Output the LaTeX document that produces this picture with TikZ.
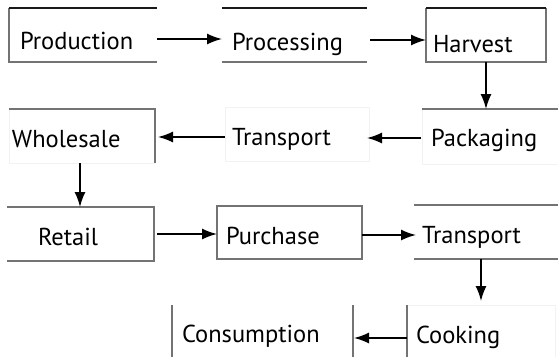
\documentclass[tikz,border=0pt]{standalone}
\usepackage{fontspec}
\setmainfont{PT Sans}
\usetikzlibrary{arrows.meta}
\begin{document}
\begin{tikzpicture}[x=1pt,y=-1pt,
  box/.style={inner sep=0pt,outer sep=0pt,draw=none},
  lbl/.style={inner sep=0pt,outer sep=0pt,anchor=base west,font=\fontsize{24.5}{27}\selectfont,text=black},
  dk/.style={draw=black!90,line width=1.3pt},
  md/.style={draw=black!55,line width=1.1pt},
  ft/.style={draw=black!5,line width=0.8pt},
  arr/.style={draw=black,line width=1.5pt,-{Latex[length=15pt,width=11pt]}}]
\useasboundingbox[fill=white] (0,0) rectangle (558,357);
% boxes
\node[box,minimum width=148pt,minimum height=54pt] (bProd) at (83,35) {};
\node[box,minimum width=145pt,minimum height=54pt] (bProc) at (294.5,35) {};
\node[box,minimum width=120pt,minimum height=54pt] (bHarv) at (486,35) {};
\node[box,minimum width=136pt,minimum height=55pt] (bPack) at (490,136.5) {};
\node[box,minimum width=144pt,minimum height=54pt] (bTr2) at (297,134) {};
\node[box,minimum width=146pt,minimum height=54pt] (bWhol) at (82,136) {};
\node[box,minimum width=147pt,minimum height=54pt] (bRet) at (80.5,234) {};
\node[box,minimum width=145pt,minimum height=53pt] (bPur) at (289.5,232.5) {};
\node[box,minimum width=144pt,minimum height=54pt] (bTr3) at (486,232) {};
\node[box,minimum width=148pt,minimum height=52pt] (bCook) at (481,331) {};
\node[box,minimum width=181pt,minimum height=52pt] (bCons) at (262.5,331) {};
% labels
\node[lbl] (tProd) at (20,49) {Production};
\node[lbl] (tProc) at (232,50) {Processing};
\node[lbl] (tHarv) at (433,52) {Harvest};
\node[lbl] (tPack) at (431,146) {Packaging};
\node[lbl] (tTr2) at (232,145) {Transport};
\node[lbl] (tWhol) at (12,147) {Wholesale};
\node[lbl] (tRet) at (38,245) {Retail};
\node[lbl] (tPur) at (226,244) {Purchase};
\node[lbl] (tTr3) at (422,243) {Transport};
\node[lbl] (tCook) at (416,343) {Cooking};
\node[lbl] (tCons) at (182,342) {Consumption};
% borders
\draw[md] (bProd.north west) -- (bProd.south west) -- (bProd.south east);
\draw[dk] (bProd.north west) -- (bProd.north east);
\draw[md] (bProc.south west) -- (bProc.south east);
\draw[dk] (bProc.north west) -- (bProc.north east);
\draw[md] (bHarv.north west) -- (bHarv.south west) -- (bHarv.south east) -- (bHarv.north east);
\draw[dk] (bHarv.north west) -- (bHarv.north east);
\draw[ft] (bPack.north west) -- (bPack.south west) -- (bPack.south east);
\draw[md] (bPack.north west) -- (bPack.north east);
\draw[ft] (bTr2.north west) rectangle (bTr2.south east);
\draw[ft] (bWhol.north west) -- (bWhol.south west) -- (bWhol.south east);
\draw[md] (bWhol.north west) -- (bWhol.north east) -- (bWhol.south east);
\draw[md] (bRet.north west) -- (bRet.north east) -- (bRet.south east) -- (bRet.south west);
\draw[md] (bPur.north west) rectangle (bPur.south east);
\draw[md] (bTr3.north west) -- (bTr3.north east);
\draw[md] (bTr3.south west) -- (bTr3.south east);
\draw[ft] (bCook.north west) -- (bCook.north east) -- (bCook.south east);
\draw[md] (bCook.north west) -- (bCook.south west);
\draw[md] (bCons.north west) -- (bCons.south west);
\draw[md] (bCons.north east) -- (bCons.south east);
% arrows
\draw[arr] ([yshift=-4pt]bProd.east) -- ([yshift=-4pt]bProc.west);
\draw[arr] ([xshift=3pt,yshift=-5pt]bProc.east) -- ([yshift=-5pt]bHarv.west);
\draw[arr] (bHarv.south) -- (bHarv.south |- bPack.north);
\draw[arr] ([xshift=-1pt,yshift=-1.5pt]bPack.west) -- ([xshift=-2pt,yshift=-1.5pt]bPack.west -| bTr2.east);
\draw[arr] ([yshift=-3pt]bTr2.west) -- ([xshift=3pt,yshift=-3pt]bTr2.west -| bWhol.east);
\draw[arr] ([xshift=-2pt]bWhol.south) -- ([xshift=-2pt]bWhol.south |- bRet.north);
\draw[arr] ([xshift=3pt]bRet.east) -- (bRet.east -| bPur.west);
\draw[arr] ([yshift=-2.5pt]bPur.east) -- ([xshift=2pt,yshift=-2.5pt]bPur.east -| bTr3.west);
\draw[arr] (bCook.north |- bTr3.south) -- ([yshift=4pt]bCook.north);
\draw[arr] ([yshift=-7pt]bCook.west) -- ([xshift=1pt,yshift=-7pt]bCook.west -| bCons.east);
\end{tikzpicture}
\end{document}
